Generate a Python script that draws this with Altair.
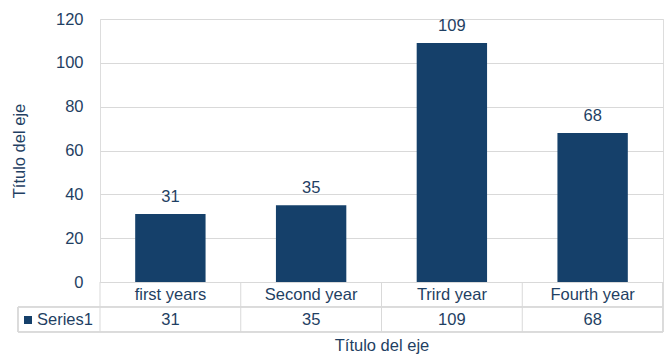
import altair as alt
import pandas as pd

# Chart values
categories = ["first years", "Second year", "Trird year", "Fourth year"]
values = [31, 35, 109, 68]
series_name = "Series1"
axis_title = "Título del eje"
y_ticks = [0, 20, 40, 60, 80, 100, 120]

df = pd.DataFrame({"cat": categories, "val": values})

NAVY = "#15406A"
TEXT = "#1F3F63"
GRID = "#D9D9D9"
FONT = "Liberation Sans"
FS = 16.5

W, H = 563, 263
ROW = 25  # height of each row of the data table

xscale = alt.Scale(domain=categories, paddingInner=0, paddingOuter=0)
x_enc = alt.X(
    "cat:N",
    sort=categories,
    scale=xscale,
    axis=alt.Axis(
        title=axis_title,
        labelAngle=0,
        labelFont=FONT,
        labelFontSize=FS,
        labelColor=TEXT,
        labelBaseline="middle",
        labelPadding=12,
        ticks=False,
        domain=True,
        domainColor=GRID,
        titleFont=FONT,
        titleFontSize=FS,
        titleFontWeight="normal",
        titleColor=TEXT,
        titleBaseline="middle",
        titleY=63,
    ),
)

bars = alt.Chart(df).mark_bar(
    color=NAVY, width=alt.RelativeBandSize(0.5)
).encode(
    x=x_enc,
    y=alt.Y(
        "val:Q",
        scale=alt.Scale(domain=[0, 120], nice=False),
        axis=alt.Axis(
            values=y_ticks,
            title=axis_title,
            labelFont=FONT,
            labelFontSize=FS,
            labelColor=TEXT,
            labelPadding=17,
            ticks=False,
            domain=False,
            gridColor=GRID,
            gridWidth=1,
            titleFont=FONT,
            titleFontSize=FS,
            titleFontWeight="normal",
            titleColor=TEXT,
            titleAngle=-90,
            titleAlign="center",
            titleBaseline="middle",
            titleX=-81,
            titleY=H / 2,
        ),
    ),
)

bar_labels = alt.Chart(df).mark_text(
    font=FONT, fontSize=FS, color=TEXT, baseline="middle", dy=-17
).encode(
    x=alt.X("cat:N", sort=categories, scale=xscale),
    y=alt.Y("val:Q"),
    text=alt.Text("val:Q"),
)

# Data table below the axis: value row
table_values = alt.Chart(df).mark_text(
    font=FONT, fontSize=FS, color=TEXT, baseline="middle"
).encode(
    x=alt.X("cat:N", sort=categories, scale=xscale),
    y=alt.value(H + ROW * 1.5 + 0.5),
    text=alt.Text("val:Q"),
)

# Table grid: vertical separators at the left edge of each category
vlines = alt.Chart(df).mark_rule(color=GRID, strokeWidth=1).encode(
    x=alt.X("cat:N", sort=categories, scale=xscale, bandPosition=0),
    y=alt.value(H),
    y2=alt.value(H + 2 * ROW),
)
right_edge = alt.Chart(df).mark_rule(color=GRID, strokeWidth=1).encode(
    x=alt.value(W), y=alt.value(H), y2=alt.value(H + 2 * ROW)
)
left_edge = alt.Chart(df).mark_rule(color=GRID, strokeWidth=1).encode(
    x=alt.value(-82), y=alt.value(H + ROW), y2=alt.value(H + 2 * ROW)
)
hline_mid = alt.Chart(df).mark_rule(color=GRID, strokeWidth=1).encode(
    x=alt.value(-82), x2=alt.value(W), y=alt.value(H + ROW)
)
hline_bot = alt.Chart(df).mark_rule(color=GRID, strokeWidth=1).encode(
    x=alt.value(-82), x2=alt.value(W), y=alt.value(H + 2 * ROW)
)

# Series key in the table
key_df = pd.DataFrame({"name": [series_name]})
key_square = alt.Chart(key_df).mark_square(
    color=NAVY, size=64, opacity=1
).encode(x=alt.value(-72), y=alt.value(H + ROW * 1.5 + 0.5))
key_text = alt.Chart(key_df).mark_text(
    font=FONT, fontSize=FS, color=TEXT, align="left", baseline="middle"
).encode(
    x=alt.value(-63), y=alt.value(H + ROW * 1.5 + 0.5), text="name:N"
)

chart = alt.layer(
    bars, bar_labels, table_values, vlines, right_edge, left_edge,
    hline_mid, hline_bot, key_square, key_text,
).properties(
    width=W,
    height=H,
    padding={"left": 100, "top": 19, "right": 7, "bottom": 74},
    autosize=alt.AutoSizeParams(type="none"),
).configure_view(stroke=None).configure(background="white")

chart.save("out.html", embed_options={"renderer": "svg", "actions": False})
